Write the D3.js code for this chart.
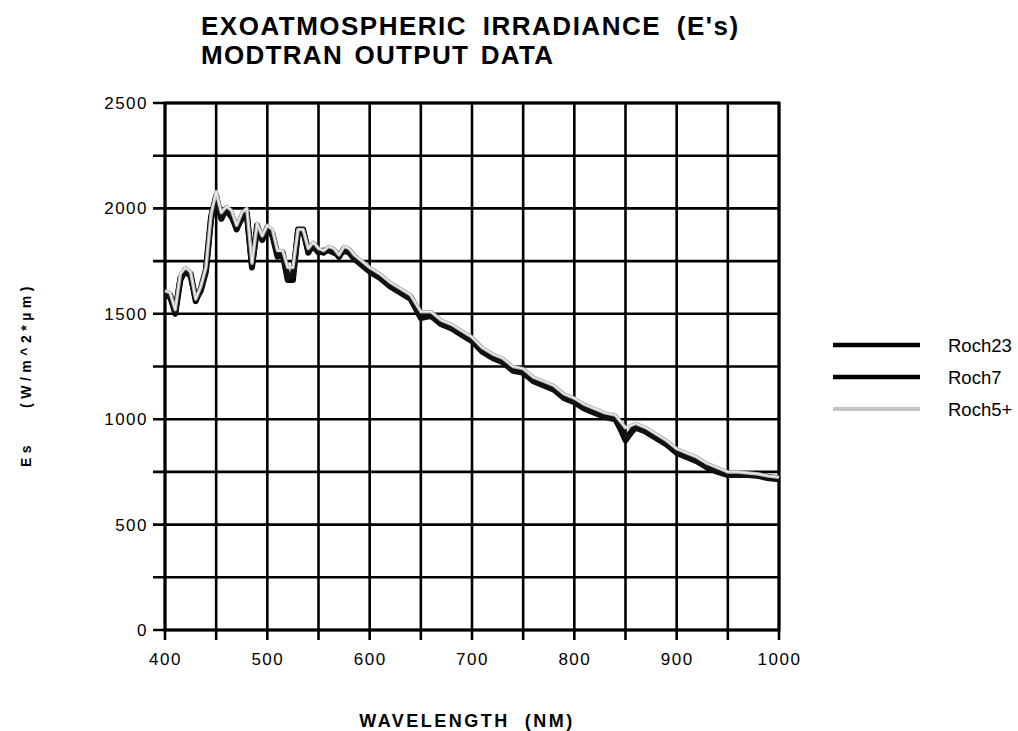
<!DOCTYPE html>
<html><head><meta charset="utf-8">
<script src="https://cdn.jsdelivr.net/npm/d3@7"></script>
<style>body{margin:0;background:#fff}svg{display:block}</style>
</head><body>
<svg id="c" width="1018" height="731"></svg>
<script>
const wavelengths = [400,405,410,415,420,425,430,435,440,445,450,455,460,465,470,475,480,485,490,495,500,505,510,515,520,525,530,535,540,545,550,555,560,565,570,575,580,585,590,595,600,610,620,630,640,650,660,670,680,690,700,710,720,730,740,750,760,770,780,790,800,810,820,830,840,850,860,870,880,890,900,910,920,930,940,950,960,970,980,990,1000];
const roch23 = [1600,1590,1500,1660,1710,1690,1560,1620,1710,1960,2060,1950,2000,1970,1900,1960,1980,1720,1920,1850,1910,1880,1780,1780,1660,1660,1900,1900,1790,1830,1800,1790,1810,1800,1770,1810,1800,1770,1750,1730,1710,1680,1640,1610,1580,1490,1500,1460,1440,1410,1380,1330,1300,1280,1240,1230,1190,1170,1150,1110,1090,1060,1040,1020,1010,900,970,950,920,890,850,830,810,780,760,740,740,740,735,725,720];
const roch7 = [1590,1580,1510,1670,1700,1680,1570,1610,1700,1950,2050,1960,1990,1960,1910,1950,1970,1730,1900,1860,1900,1870,1770,1790,1670,1680,1890,1890,1800,1820,1790,1800,1800,1790,1780,1800,1790,1760,1740,1720,1700,1670,1630,1600,1570,1480,1490,1450,1430,1400,1370,1320,1290,1270,1230,1220,1180,1160,1140,1100,1080,1050,1030,1010,1000,910,960,940,910,880,840,820,800,770,750,735,735,735,730,720,715];
const roch5 = [1610,1600,1520,1690,1720,1700,1570,1630,1720,1970,2080,1980,2010,1990,1920,1980,2000,1740,1930,1870,1920,1900,1800,1800,1720,1720,1900,1900,1810,1840,1810,1800,1820,1810,1780,1820,1810,1780,1760,1740,1720,1690,1650,1620,1590,1510,1510,1470,1450,1420,1390,1340,1310,1290,1250,1240,1200,1180,1160,1120,1100,1070,1050,1030,1020,960,980,960,930,900,860,840,820,790,770,750,750,745,740,730,725];
const seriesNames = ["Roch23","Roch7","Roch5+"];
const xTicks = [400,500,600,700,800,900,1000];
const xGrid = [400,450,500,550,600,650,700,750,800,850,900,950,1000];
const yTicks = [0,500,1000,1500,2000,2500];
const yGrid = [0,250,500,750,1000,1250,1500,1750,2000,2250,2500];

const svg = d3.select("#c");
const L=165,R=779,T=103,B=630;
const x = d3.scaleLinear().domain([400,1000]).range([L,R]);
const y = d3.scaleLinear().domain([0,2500]).range([B,T]);
const font = "'Liberation Sans', Arial, Helvetica, sans-serif";

// grid
svg.append("g").selectAll("line").data(xGrid).join("line")
  .attr("x1",d=>x(d)).attr("x2",d=>x(d)).attr("y1",T).attr("y2",B+10)
  .attr("stroke","#000").attr("stroke-width",2.6);
svg.append("g").selectAll("line").data(yGrid).join("line")
  .attr("x1",L-12).attr("x2",R).attr("y1",d=>y(d)).attr("y2",d=>y(d))
  .attr("stroke","#000").attr("stroke-width",2.6);
// frame
svg.append("rect").attr("x",L).attr("y",T).attr("width",R-L).attr("height",B-T)
  .attr("fill","none").attr("stroke","#000").attr("stroke-width",3);

// axis labels via d3 axes
const xAxis = svg.append("g").attr("transform",`translate(0,${B})`)
  .call(d3.axisBottom(x).tickValues(xTicks).tickSize(0).tickPadding(23).tickFormat(d3.format("d")));
xAxis.select(".domain").remove();
xAxis.selectAll("text").attr("font-family",font).attr("font-size",17).attr("letter-spacing",1.5).attr("fill","#000");
const yAxis = svg.append("g").attr("transform",`translate(${L},0)`)
  .call(d3.axisLeft(y).tickValues(yTicks).tickSize(0).tickPadding(17).tickFormat(d3.format("d")));
yAxis.select(".domain").remove();
yAxis.selectAll("text").attr("font-family",font).attr("font-size",17).attr("letter-spacing",1.5).attr("fill","#000");

// lines
const line = d3.line().x((d,i)=>x(wavelengths[i])).y(d=>y(d)).curve(d3.curveLinear);
svg.append("path").datum(roch23).attr("d",line).attr("fill","none").attr("stroke","#000").attr("stroke-width",6).attr("stroke-linejoin","round");
svg.append("path").datum(roch7).attr("d",line).attr("fill","none").attr("stroke","#111").attr("stroke-width",6).attr("stroke-linejoin","round");
svg.append("path").datum(roch5).attr("d",line).attr("fill","none").attr("stroke","#b8b8b8").attr("stroke-width",3.5).attr("stroke-linejoin","round");
svg.append("path").datum(roch5).attr("d",line).attr("fill","none").attr("stroke","#f2f2f2").attr("stroke-width",1.2).attr("stroke-linejoin","round");

// legend
const legY = [345,377,409];
const legColors = ["#000","#000","#c4c4c4"];
const legW = [4.5,4.5,4];
seriesNames.forEach((n,i)=>{
  svg.append("line").attr("x1",833).attr("x2",920).attr("y1",legY[i]).attr("y2",legY[i])
    .attr("stroke",legColors[i]).attr("stroke-width",legW[i]);
  svg.append("text").attr("x",948).attr("y",legY[i]+7).text(n)
    .attr("font-family",font).attr("font-size",18.5).attr("fill","#000");
});

// titles
svg.append("text").attr("x",201).attr("y",35).text("EXOATMOSPHERIC IRRADIANCE (E's)")
  .attr("font-family",font).attr("font-weight","bold").attr("font-size",26).attr("letter-spacing",1.5).attr("word-spacing",7).attr("fill","#000");
svg.append("text").attr("x",201).attr("y",64).text("MODTRAN OUTPUT DATA")
  .attr("font-family",font).attr("font-weight","bold").attr("font-size",26).attr("letter-spacing",1.3).attr("word-spacing",3).attr("fill","#000");
svg.append("text").attr("x",467).attr("y",727).attr("text-anchor","middle").text("WAVELENGTH  (NM)")
  .attr("font-family",font).attr("font-weight","bold").attr("font-size",18).attr("letter-spacing",2.5).attr("fill","#000").style("white-space","pre");
svg.append("text").attr("transform","translate(31,345) rotate(-90)").attr("text-anchor","middle")
  .text("(W/m^2*\u00b5m)")
  .attr("font-family",font).attr("font-weight","bold").attr("font-size",14).attr("letter-spacing",4.5).attr("fill","#000");
svg.append("text").attr("transform","translate(31,454) rotate(-90)").attr("text-anchor","middle")
  .text("Es")
  .attr("font-family",font).attr("font-weight","bold").attr("font-size",14).attr("letter-spacing",4.5).attr("fill","#000");
</script>
</body></html>
